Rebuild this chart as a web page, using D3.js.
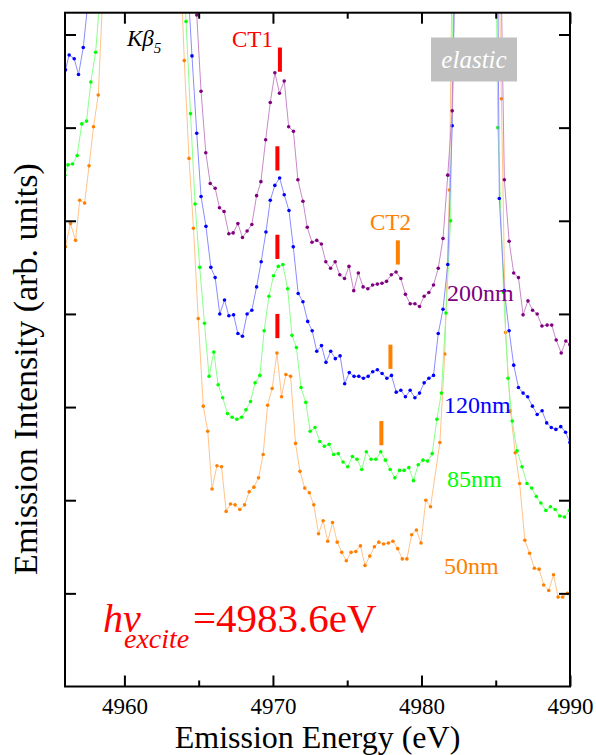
<!DOCTYPE html>
<html><head><meta charset="utf-8">
<script src="https://cdn.jsdelivr.net/npm/d3@7/dist/d3.min.js"></script>
<style>body{margin:0;background:#fff}svg{display:block}svg text{font-family:"Liberation Serif","Times New Roman",serif}</style>
</head><body><svg id="c" width="596" height="755"></svg>
<script>
// ---------- data ----------
const xMajorTicks = [4960, 4970, 4980, 4990];
const xMinorTicks = [4965, 4975, 4985];
const yTicks = [1, 2, 3, 4, 5, 6, 7];
const seriesNames = ["200nm", "120nm", "85nm", "50nm"];

const e200 = [4964.57,4964.87,4965.16,4965.48,4965.78,4966.11,4966.40,4966.71,4967.03,4967.32,4967.64,4967.95,4968.26,4968.58,4968.90,4969.19,4969.51,4969.82,4970.13,4970.44,4970.76,4971.06,4971.38,4971.68,4972.02,4972.31,4972.63,4972.95,4973.26,4973.56,4973.88,4974.19,4974.50,4974.82,4975.12,4975.44,4975.75,4976.07,4976.39,4976.71,4977.03,4977.34,4977.65,4977.97,4978.29,4978.61,4978.92,4979.24,4979.56,4979.87,4980.18,4980.50,4980.81,4981.13,4981.45,4981.77,4982.07,4982.39,4982.70,4983.01,4983.33,4983.64,4983.95,4984.27,4984.58,4984.89,4985.21,4985.58,4985.90,4986.21,4986.53,4986.84,4987.17,4987.48,4987.79,4988.11,4988.46,4988.77,4989.07,4989.41,4989.72,4989.99];
const i200 = [8.45,7.21,6.39,5.73,5.40,5.35,5.14,5.10,4.86,4.87,4.97,4.82,4.89,4.96,5.27,5.42,5.87,6.27,6.59,6.37,6.50,6.01,5.96,5.44,5.21,4.93,4.77,4.79,4.75,4.56,4.49,4.56,4.42,4.38,4.51,4.25,4.44,4.29,4.27,4.31,4.32,4.33,4.35,4.42,4.45,4.38,4.21,4.11,4.11,4.08,4.19,4.23,4.31,4.49,4.81,5.49,6.18,9.2,18,35,55,70,65,45,25,14,9.1,5.44,4.78,4.44,4.39,3.99,4.14,4.04,4.00,3.87,3.88,3.88,3.72,3.58,3.71,3.67];

const e120 = [4956.03,4956.28,4956.62,4956.91,4957.23,4957.54,4957.85,4958.5,4960.0,4962.0,4963.5,4963.93,4964.24,4964.55,4964.87,4965.16,4965.49,4965.82,4966.11,4966.42,4966.74,4967.03,4967.35,4967.64,4967.95,4968.26,4968.58,4968.90,4969.21,4969.53,4969.82,4970.13,4970.45,4970.76,4971.08,4971.37,4971.70,4972.02,4972.34,4972.64,4972.95,4973.27,4973.57,4973.89,4974.20,4974.52,4974.83,4975.14,4975.46,4975.78,4976.09,4976.41,4976.72,4977.03,4977.35,4977.67,4977.98,4978.30,4978.61,4978.92,4979.24,4979.56,4979.87,4980.18,4980.50,4980.81,4981.13,4981.45,4981.77,4982.07,4982.39,4982.70,4983.01,4983.33,4983.64,4983.95,4984.27,4984.58,4984.93,4985.24,4985.58,4985.90,4986.21,4986.53,4986.84,4987.15,4987.47,4987.79,4988.12,4988.43,4988.74,4989.05,4989.38,4989.70,4989.99];
const i120 = [6.62,6.78,6.74,6.57,6.86,7.34,8.5,12,30,30,15,10,7.63,6.77,5.94,5.26,4.94,4.50,4.39,4.00,4.15,3.98,3.99,3.79,3.76,4.00,4.04,4.29,4.56,4.88,5.22,5.38,5.46,5.28,5.11,4.72,4.22,4.13,3.92,3.82,3.60,3.66,3.48,3.60,3.52,3.55,3.25,3.37,3.33,3.33,3.31,3.33,3.38,3.40,3.36,3.31,3.34,3.16,3.18,3.11,3.18,3.10,3.15,3.26,3.31,3.34,3.79,4.05,4.53,6.02,9.0,18,35,55,70,65,45,25,12.5,5.24,4.25,3.82,3.45,3.21,3.15,3.11,3.01,2.92,2.96,2.83,2.78,2.76,2.79,2.73,2.62];

const e85 = [4955.99,4956.20,4956.51,4956.82,4957.13,4957.45,4957.74,4958.06,4958.37,4958.7,4960.0,4962.0,4963.5,4963.83,4964.15,4964.45,4964.76,4965.07,4965.39,4965.70,4966.02,4966.31,4966.62,4966.94,4967.25,4967.57,4967.89,4968.18,4968.49,4968.80,4969.12,4969.41,4969.73,4970.04,4970.36,4970.67,4970.99,4971.28,4971.58,4971.89,4972.21,4972.51,4972.83,4973.15,4973.46,4973.78,4974.09,4974.40,4974.72,4975.04,4975.35,4975.66,4975.98,4976.29,4976.61,4976.93,4977.26,4977.57,4977.89,4978.21,4978.52,4978.83,4979.15,4979.46,4979.78,4980.10,4980.41,4980.72,4981.04,4981.34,4981.65,4981.96,4982.27,4982.58,4982.90,4983.21,4983.52,4983.83,4984.15,4984.46,4984.83,4985.14,4985.53,4985.83,4986.11,4986.44,4986.77,4987.10,4987.42,4987.73,4988.04,4988.37,4988.68,4989.00,4989.31,4989.63,4989.95];
const i85 = [5.49,5.60,5.61,5.70,6.04,6.07,6.49,6.81,7.42,9,30,30,12,8.15,7.14,6.15,5.18,4.50,3.90,3.33,3.59,3.24,3.10,2.93,2.89,2.87,2.89,2.97,3.06,3.26,3.34,3.82,4.19,4.41,4.51,4.53,4.27,3.77,3.64,3.21,3.05,2.74,2.78,2.63,2.58,2.60,2.49,2.50,2.41,2.36,2.47,2.44,2.33,2.52,2.44,2.44,2.52,2.43,2.33,2.24,2.32,2.32,2.35,2.21,2.38,2.43,2.42,2.50,2.87,3.15,4.01,5.00,9.4,20,40,60,72,68,50,28,10.9,6.00,4.23,3.31,2.85,2.53,2.36,2.18,2.13,2.04,1.97,1.89,1.93,1.90,1.83,1.82,1.89];

const e50 = [4956.03,4956.37,4956.71,4956.99,4957.32,4957.62,4957.92,4958.24,4958.55,4959.0,4960.0,4962.0,4963.4,4963.70,4964.03,4964.35,4964.65,4964.97,4965.31,4965.61,4965.90,4966.23,4966.54,4966.85,4967.14,4967.45,4967.77,4968.09,4968.40,4968.72,4969.03,4969.34,4969.64,4969.95,4970.27,4970.58,4970.87,4971.19,4971.52,4971.82,4972.14,4972.45,4972.75,4973.07,4973.38,4973.69,4974.01,4974.33,4974.63,4974.94,4975.26,4975.58,4975.89,4976.20,4976.52,4976.83,4977.13,4977.45,4977.77,4978.08,4978.40,4978.71,4979.02,4979.34,4979.66,4979.97,4980.29,4980.61,4981.24,4981.57,4981.88,4982.20,4982.6,4983.0,4983.4,4983.8,4984.2,4984.6,4985.06,4985.38,4985.66,4985.99,4986.31,4986.61,4986.96,4987.28,4987.60,4987.92,4988.23,4988.57,4988.89,4989.20,4989.51,4989.83];
const i50 = [4.72,4.97,4.79,5.22,5.19,5.59,6.01,6.35,7.44,10,30,30,11,8.12,6.72,5.67,4.92,3.95,3.01,2.74,2.12,2.37,2.36,1.88,1.96,1.95,1.90,1.95,2.09,2.14,2.24,2.49,3.02,3.20,3.58,3.11,3.35,3.33,2.61,2.31,2.13,2.08,1.95,1.64,1.78,1.56,1.76,1.55,1.44,1.35,1.44,1.45,1.51,1.30,1.40,1.50,1.55,1.53,1.54,1.56,1.48,1.37,1.37,1.63,1.68,1.54,2.00,1.93,2.62,3.57,5.33,9.63,25,50,72,70,45,20,9.23,6.31,3.80,2.96,2.51,2.18,1.57,1.43,1.27,1.26,1.09,1.03,1.20,0.96,0.96,1.00];

// CT marker positions (energy, top of bar in intensity units)
const ct1Energy = [4970.47, 4970.30, 4970.30, 4970.30];
const ct1Top = [6.86, 5.80, 4.85, 4.00];
const ct2Energy = [4978.41, 4977.91, 4977.30];
const ct2Top = [4.79, 3.67, 2.85];

// ---------- layout ----------
const L = 65, R = 570, T = 12.7, B = 686.5;
const FONT = "Liberation Serif, Times New Roman, serif";
const svg = d3.select("#c");
const x = d3.scaleLinear().domain([4956, 4990]).range([L, R]);
const y = d3.scaleLinear().domain([0, 7.234]).range([B, T]);

svg.append("rect").attr("width", 596).attr("height", 755).attr("fill", "#fff");

svg.append("clipPath").attr("id", "clip")
  .append("rect").attr("x", L).attr("y", T).attr("width", R - L).attr("height", B - T);

const series = [
  {name: seriesNames[0], e: e200, v: i200, color: "#800080", line: "#c88ac8"},
  {name: seriesNames[1], e: e120, v: i120, color: "#0000ff", line: "#8c8cff"},
  {name: seriesNames[2], e: e85,  v: i85,  color: "#00ff00", line: "#8cff8c"},
  {name: seriesNames[3], e: e50,  v: i50,  color: "#ff8000", line: "#ffc48a"}
];

const plot = svg.append("g").attr("clip-path", "url(#clip)");
const line = d3.line().x(d => x(d[0])).y(d => y(d[1]));

series.slice().reverse().forEach(s => {
  const n = Math.min(s.e.length, s.v.length);
  const pts = d3.range(n).map(i => [s.e[i], s.v[i]]);
  plot.append("path").datum(pts).attr("d", line)
    .attr("fill", "none").attr("stroke", s.line).attr("stroke-width", 1);
  plot.append("g").selectAll("circle").data(pts).join("circle")
    .attr("cx", d => x(d[0])).attr("cy", d => y(d[1])).attr("r", 1.8)
    .attr("fill", s.color);
});

// CT markers
const barLen = 0.26;
plot.append("g").selectAll("rect").data(d3.range(ct1Energy.length)).join("rect")
  .attr("x", i => x(ct1Energy[i]) - 2).attr("width", 4)
  .attr("y", i => y(ct1Top[i])).attr("height", i => y(ct1Top[i] - barLen) - y(ct1Top[i]))
  .attr("fill", "#ff0000");
plot.append("g").selectAll("rect").data(d3.range(ct2Energy.length)).join("rect")
  .attr("x", i => x(ct2Energy[i]) - 2).attr("width", 4)
  .attr("y", i => y(ct2Top[i])).attr("height", i => y(ct2Top[i] - barLen) - y(ct2Top[i]))
  .attr("fill", "#ff8000");

// ---------- axes ----------
function styleAxis(g) {
  g.attr("font-family", FONT);
  g.select(".domain").remove();
  g.selectAll(".tick line").attr("stroke", "#000").attr("stroke-width", 2);
  g.selectAll(".tick text").attr("fill", "#000");
}
svg.append("g").attr("transform", `translate(0,${B})`)
  .call(d3.axisBottom(x).tickValues(xMajorTicks).tickSize(-11).tickSizeOuter(0).tickPadding(11.5).tickFormat(d3.format("d")))
  .call(styleAxis).call(g => g.selectAll(".tick text").attr("font-size", 23));
svg.append("g").attr("transform", `translate(0,${B})`)
  .call(d3.axisBottom(x).tickValues(xMinorTicks).tickSize(-6).tickSizeOuter(0).tickFormat(""))
  .call(styleAxis);
svg.append("g").attr("transform", `translate(0,${T})`)
  .call(d3.axisTop(x).tickValues(xMajorTicks).tickSize(-11).tickSizeOuter(0).tickFormat(""))
  .call(styleAxis);
svg.append("g").attr("transform", `translate(0,${T})`)
  .call(d3.axisTop(x).tickValues(xMinorTicks).tickSize(-6).tickSizeOuter(0).tickFormat(""))
  .call(styleAxis);
svg.append("g").attr("transform", `translate(${L},0)`)
  .call(d3.axisLeft(y).tickValues(yTicks).tickSize(-11).tickSizeOuter(0).tickFormat(""))
  .call(styleAxis);
svg.append("g").attr("transform", `translate(${R},0)`)
  .call(d3.axisRight(y).tickValues(yTicks).tickSize(-11).tickSizeOuter(0).tickFormat(""))
  .call(styleAxis);

svg.append("rect").attr("x", L).attr("y", T).attr("width", R - L).attr("height", B - T)
  .attr("fill", "none").attr("stroke", "#000").attr("stroke-width", 2);

// axis titles
svg.append("text").attr("x", (L + R) / 2).attr("y", 748)
  .attr("text-anchor", "middle").attr("font-size", 32)
  .text("Emission Energy (eV)");
svg.append("text").attr("transform", "translate(37,369) rotate(-90)")
  .attr("text-anchor", "middle").attr("font-size", 34)
  .text("Emission Intensity (arb. units)");

// ---------- annotations ----------
const labelPos = [[447, 301], [444, 413], [447, 487], [444, 574]];
series.forEach((s, i) => {
  svg.append("text").attr("x", labelPos[i][0]).attr("y", labelPos[i][1])
    .attr("font-size", 24).attr("fill", s.color).text(s.name);
});

svg.append("text").attr("x", 232).attr("y", 46.5)
  .attr("font-size", 23).attr("fill", "#ff0000").text("CT1");
svg.append("text").attr("x", 370).attr("y", 230)
  .attr("font-size", 23).attr("fill", "#ff8000").text("CT2");

const kb = svg.append("text").attr("x", 127).attr("y", 45.5)
  .attr("font-style", "italic").attr("font-size", 23).attr("fill", "#000");
kb.append("tspan").text("Kβ");
kb.append("tspan").attr("font-size", 15).attr("dy", 7).text("5");

svg.append("rect").attr("x", 431).attr("y", 37.5).attr("width", 86).attr("height", 44)
  .attr("fill", "#c0c0c0");
svg.append("text").attr("x", 474).attr("y", 68).attr("text-anchor", "middle")
  .attr("font-style", "italic").attr("font-size", 25)
  .attr("fill", "#fff").text("elastic");

const hv = svg.append("text").attr("x", 103).attr("y", 632).attr("fill", "#ff0000");
hv.append("tspan").attr("font-style", "italic").attr("font-size", 40).text("hν");
hv.append("tspan").attr("x", 124).attr("dy", 16).attr("font-style", "italic").attr("font-size", 28).text("excite");
hv.append("tspan").attr("x", 193).attr("dy", -16).attr("font-size", 41).text("=4983.6eV");
</script></body></html>
